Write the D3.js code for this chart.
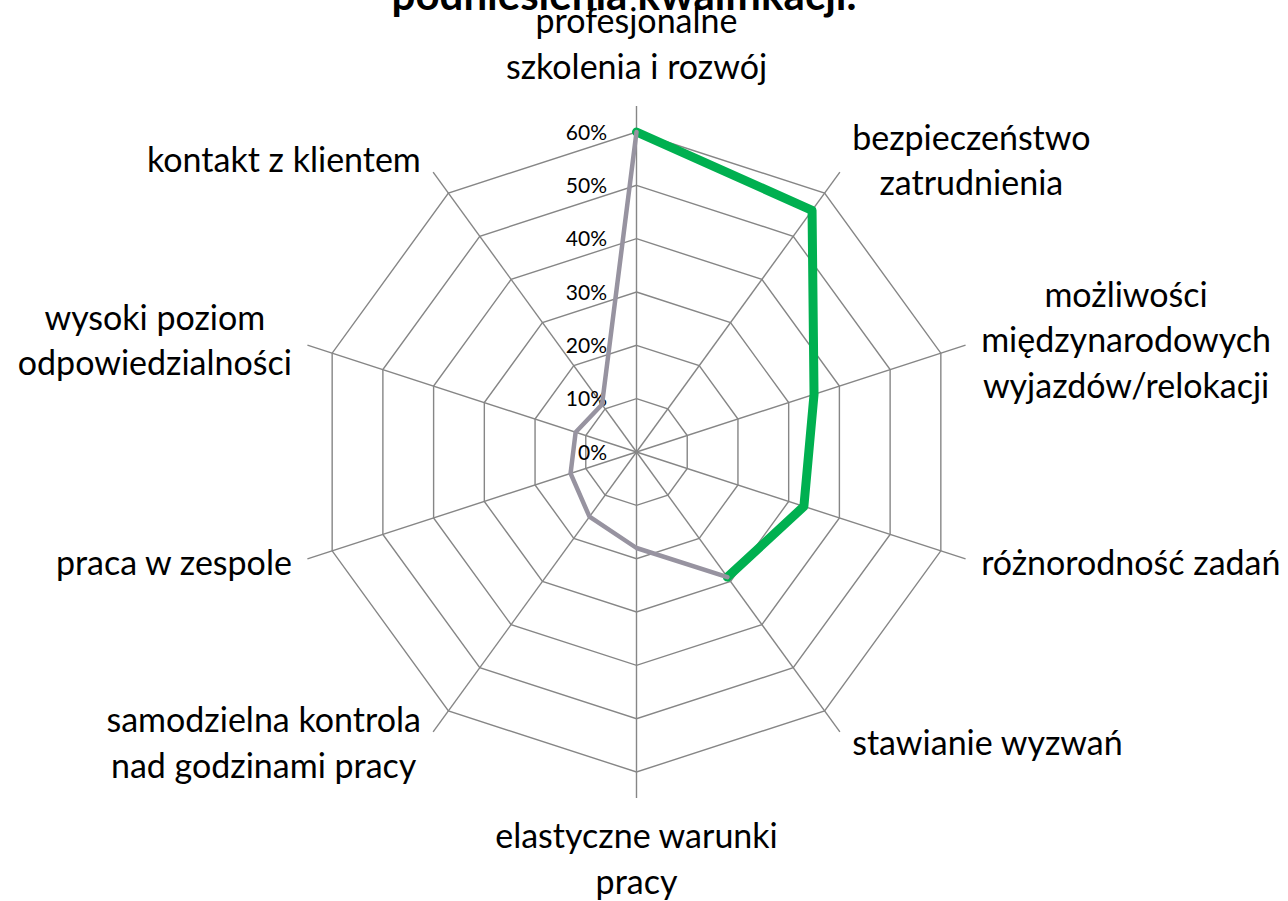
<!DOCTYPE html>
<html>
<head>
<meta charset="utf-8">
<script src="https://cdn.jsdelivr.net/npm/d3@7"></script>
<style>
  body { margin: 0; background: #fff; }
  text { font-family: Lato, "Open Sans", sans-serif; fill: #000; }
</style>
</head>
<body>
<div id="root"></div>
<script>
// Categories (clockwise from the top), line breaks as in the chart
const categories = [
  'profesjonalne\nszkolenia i rozwój',
  'bezpieczeństwo\nzatrudnienia',
  'możliwości\nmiędzynarodowych\nwyjazdów/relokacji',
  'różnorodność zadań',
  'stawianie wyzwań',
  'elastyczne warunki\npracy',
  'samodzielna kontrola\nnad godzinami pracy',
  'praca w zespole',
  'wysoki poziom\nodpowiedzialności',
  'kontakt z klientem'
];

// Green part of the line: categories 0..4
const greenValues = [0.60, 0.56, 0.35, 0.33, 0.29];
const greenStart = 0;
// Grey part of the line: categories 4..9 and back to 0
const greyValues = [0.29, 0.18, 0.15, 0.13, 0.12, 0.11, 0.60];
const greyStart = 4;

const tickValues = [0, 0.1, 0.2, 0.3, 0.4, 0.5, 0.6];
const titleText = 'podniesienia kwalifikacji.';

const width = 1288, height = 901;
const cx = 636.5, cy = 452;
const n = categories.length;

const svg = d3.select('#root')
  .append('svg')
  .attr('width', width)
  .attr('height', height);

const r = d3.scaleLinear().domain([0, 0.6]).range([0, 320]);
const angle = d3.scaleLinear().domain([0, n]).range([0, 2 * Math.PI]);

const g = svg.append('g').attr('transform', `translate(${cx},${cy})`);

// Title (clipped by the top edge in the original)
svg.append('text')
  .attr('x', 624)
  .attr('y', 10)
  .attr('text-anchor', 'middle')
  .style('font-weight', 'bold')
  .style('font-size', '42px')
  .text(titleText);

// Rings
const ring = d3.lineRadial()
  .angle((d, i) => angle(i))
  .radius(d => r(d))
  .curve(d3.curveLinearClosed);

g.selectAll('.ring')
  .data(tickValues.filter(t => t > 0))
  .enter()
    .append('path')
    .attr('d', t => ring(d3.range(n).map(() => t)))
    .attr('fill', 'none')
    .attr('stroke', '#868686')
    .attr('stroke-width', 1.4);

// Spokes (extend a bit past the outer ring)
const spokeLen = r(0.6) + 26;
g.selectAll('.spoke')
  .data(d3.range(n))
  .enter()
    .append('line')
    .attr('x1', 0).attr('y1', 0)
    .attr('x2', i => spokeLen * Math.sin(angle(i)))
    .attr('y2', i => -spokeLen * Math.cos(angle(i)))
    .attr('stroke', '#868686')
    .attr('stroke-width', 1.4);

// Tick labels
const tickFs = 21;
g.selectAll('.tick')
  .data(tickValues)
  .enter()
    .append('text')
    .attr('x', -29.5)
    .attr('y', t => -r(t) + tickFs * 0.36)
    .attr('text-anchor', 'end')
    .style('font-size', tickFs + 'px')
    .text(d3.format('.0%'));

// Data lines
const radial = d3.lineRadial()
  .radius(d => r(d.v))
  .angle(d => angle(d.i));

const seriesPts = (vals, start) => vals.map((v, k) => ({ v, i: start + k }));

g.append('path')
  .attr('d', radial(seriesPts(greenValues, greenStart)))
  .attr('fill', 'none')
  .attr('stroke', '#00b050')
  .attr('stroke-width', 9)
  .attr('stroke-linejoin', 'round')
  .attr('stroke-linecap', 'round');

g.append('path')
  .attr('d', radial(seriesPts(greyValues, greyStart)))
  .attr('fill', 'none')
  .attr('stroke', '#9793a0')
  .attr('stroke-width', 4.5)
  .attr('stroke-linejoin', 'round')
  .attr('stroke-linecap', 'round');

// Category labels
const fs = 34;
const lineH = 45.5;
const labelR = 355;
const pad = 7;

categories.forEach((label, i) => {
  const a = angle(i);
  const ax = labelR * Math.sin(a);
  const ay = -labelR * Math.cos(a);
  const lines = label.split('\n');
  const grp = g.append('g');
  const texts = lines.map(line => grp.append('text')
    .attr('text-anchor', 'middle')
    .style('font-size', fs + 'px')
    .text(line));
  const maxW = d3.max(texts, t => t.node().getComputedTextLength());
  const s = Math.sin(a), c = Math.cos(a);
  let x, yCenter;
  if (Math.abs(s) < 0.1) {
    x = ax;
    const blockH = lines.length * lineH;
    yCenter = c > 0 ? ay - pad - blockH / 2 : ay + pad + blockH / 2;
  } else {
    x = s > 0 ? ax + pad + maxW / 2 : ax - pad - maxW / 2;
    yCenter = ay - 5 * c;
  }
  texts.forEach((t, k) => {
    const lc = yCenter + (k - (lines.length - 1) / 2) * lineH;
    t.attr('x', x).attr('y', lc + fs * 0.34);
  });
});
</script>
</body>
</html>
